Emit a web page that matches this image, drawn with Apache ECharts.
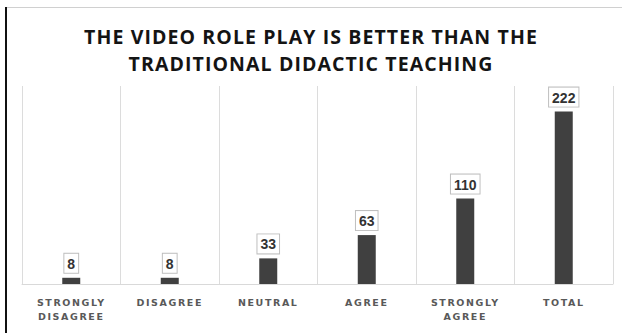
<!DOCTYPE html>
<html>
<head>
<meta charset="utf-8">
<script src="https://cdn.jsdelivr.net/npm/echarts@6/dist/echarts.min.js"></script>
<style>
  html, body { margin: 0; padding: 0; background: #fff; }
  #chart { width: 622px; height: 333px; }
  /* spaced-out lettering like the source */
  #chart text[fill="#595959"] { letter-spacing: 1.6px; }
  #chart text[fill="#141414"] { letter-spacing: 1.1px; }
</style>
</head>
<body>
<div id="chart"></div>
<script>
const categories = ['STRONGLY\nDISAGREE', 'DISAGREE', 'NEUTRAL', 'AGREE', 'STRONGLY\nAGREE', 'TOTAL']
const responses = [8, 8, 33, 63, 110, 222]
const titleLines = ['THE VIDEO ROLE PLAY IS BETTER THAN THE', 'TRADITIONAL DIDACTIC TEACHING']

const myChart = echarts.init(document.getElementById('chart'), null, { renderer: 'svg' })

const option = {
  backgroundColor: '#fff',
  animation: false,

  title: {
    text: titleLines.join('\n'),
    left: 'center',
    top: 18,
    textStyle: {
      color: '#141414',
      fontFamily: 'Open Sans',
      fontWeight: 'bold',
      fontSize: 19.5,
      lineHeight: 27
    }
  },

  // frame lines from the source picture
  graphic: [
    { type: 'line', shape: { x1: 7, y1: 7.5, x2: 622, y2: 7.5 }, style: { stroke: '#d0d0d0', lineWidth: 1 } },
    { type: 'line', shape: { x1: 6, y1: 7, x2: 6, y2: 333 }, style: { stroke: '#111', lineWidth: 2 } }
  ],

  grid: {
    top: 86,
    left: 22,
    right: 9,
    bottom: 49
  },

  xAxis: {
    type: 'category',
    data: categories,
    axisTick: { show: false },
    axisLine: { lineStyle: { color: '#d9d9d9', width: 1 } },
    splitLine: { show: true, lineStyle: { color: '#dcdcdc', width: 1 } },
    axisLabel: {
      color: '#595959',
      fontFamily: 'DejaVu Sans',
      fontWeight: 'bold',
      fontSize: 9.5,
      lineHeight: 14,
      margin: 11,
      interval: 0
    }
  },

  yAxis: {
    type: 'value',
    min: 0,
    max: 255,
    show: false,
    splitLine: { show: false }
  },

  series: [
    {
      type: 'bar',
      data: responses,
      barWidth: 18,
      itemStyle: { color: '#404040' },
      label: {
        show: true,
        position: 'top',
        distance: 5,
        color: '#333',
        fontFamily: 'Liberation Sans',
        fontWeight: 'bold',
        fontSize: 14,
        backgroundColor: '#fff',
        borderColor: '#bfbfbf',
        borderWidth: 1,
        padding: [3, 3, 2, 3]
      }
    }
  ]
}

myChart.setOption(option)
</script>
</body>
</html>
